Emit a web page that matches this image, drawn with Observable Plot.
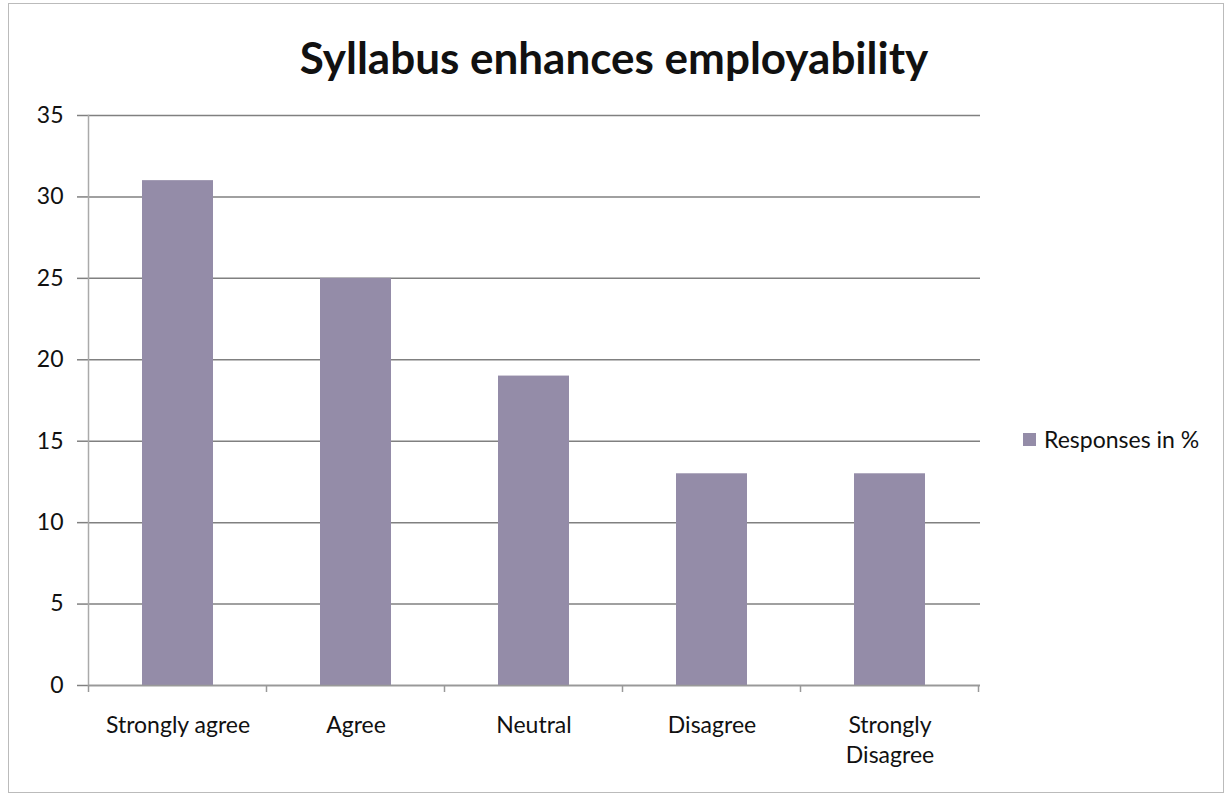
<!DOCTYPE html>
<html>
<head>
<meta charset="utf-8">
<script src="https://cdn.jsdelivr.net/npm/d3@7"></script>
<script src="https://cdn.jsdelivr.net/npm/@observablehq/plot@0.6"></script>
<style>
  html, body { margin: 0; padding: 0; background: #fff; }
  #wrap { position: relative; width: 1228px; height: 797px; overflow: hidden; font-family: Lato, "Open Sans", sans-serif; }
  #border { position: absolute; left: 8px; top: 3px; width: 1216px; height: 790px; border: 1px solid #bbb; box-sizing: border-box; }
  #title { height: 95px; box-sizing: border-box; padding-top: 32px; text-align: center; font-weight: 700; font-size: 44px; line-height: 50px; color: #111; }
  #legend { position: absolute; left: 1023px; top: 425px; display: flex; align-items: center; font-size: 23px; color: #111; }
  #legend .sw { width: 13px; height: 13px; margin-right: 8px; }
</style>
</head>
<body>
<div id="wrap">
  <div id="border"></div>
  <div id="title">Syllabus enhances employability</div>
  <div id="chart"></div>
  <div id="legend"><div class="sw"></div><span id="legendText"></span></div>
</div>
<script>
const categories = ["Strongly agree", "Agree", "Neutral", "Disagree", "Strongly Disagree"];
const values = [31, 25, 19, 13, 13];
const tickLabels = ["Strongly agree", "Agree", "Neutral", "Disagree", "Strongly\nDisagree"];
const yTicks = [0, 5, 10, 15, 20, 25, 30, 35];
const seriesName = "Responses in %";
const barColor = "#948ca8";

const data = categories.map((c, i) => ({category: c, value: values[i]}));

const plot = Plot.plot({
  width: 1228,
  height: 702,
  marginLeft: 88,
  marginRight: 248,
  marginTop: 20,
  marginBottom: 112,
  style: {fontFamily: "Lato, 'Open Sans', sans-serif", fontSize: "23px", color: "#111", background: "transparent", overflow: "visible"},
  x: {domain: categories, paddingInner: 0.6, paddingOuter: 0.3, label: null},
  y: {domain: [0, 35], label: null},
  marks: [
    Plot.gridY(yTicks, {stroke: "#808080", strokeOpacity: 1, strokeWidth: 1.5}),
    Plot.axisY(yTicks, {tickSize: 11, tickPadding: 14, stroke: "#808080", strokeWidth: 1.5, label: null, fontSize: 23}),
    Plot.axisX({tickSize: 0, tickPadding: 26, label: null, fontSize: 23, lineHeight: 1.3, tickFormat: d => tickLabels[categories.indexOf(d)]}),
    Plot.barY(data, {x: "category", y: "value", fill: barColor}),
    Plot.frame({anchor: "left", stroke: "#aaa", strokeWidth: 1.5}),
    Plot.ruleY([0], {stroke: "#999", strokeWidth: 1.5})
  ]
});

document.getElementById("chart").appendChild(plot);

// boundary ticks on the category axis, from the plot's scales
const xs = plot.scale("x");
const ys = plot.scale("y");
const y0 = ys.apply(0);
const gap = (xs.step - xs.bandwidth) / 2;
const bounds = categories.map(c => xs.apply(c) - gap);
bounds.push(xs.apply(categories[categories.length - 1]) + xs.bandwidth + gap);
d3.select(plot).append("g")
  .selectAll("line").data(bounds).join("line")
  .attr("x1", d => d).attr("x2", d => d)
  .attr("y1", y0).attr("y2", y0 + 7)
  .attr("stroke", "#999").attr("stroke-width", 1.5);

document.querySelector("#legend .sw").style.background = barColor;
document.getElementById("legendText").textContent = seriesName;
</script>
</body>
</html>
